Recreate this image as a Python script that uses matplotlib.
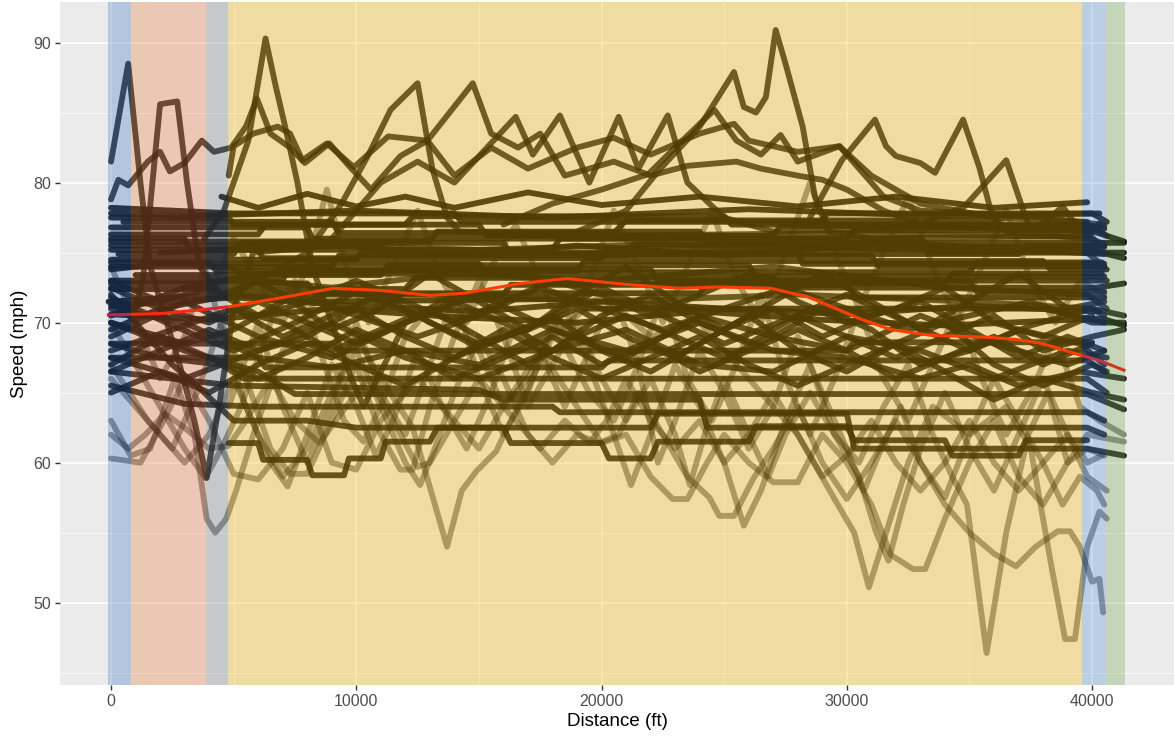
import matplotlib
matplotlib.use("Agg")
import matplotlib.pyplot as plt
from matplotlib.ticker import MultipleLocator, FixedLocator

plt.rcParams["font.family"] = ["Liberation Sans", "DejaVu Sans"]

# Route segments (ft) and their shading colours
zone_edges_ft = [-120, 815, 3860, 4780, 39590, 40570, 41350]
zone_colors = ["#4277c8", "#ed803e", "#7d8086", "#fabe09", "#5796d8", "#73a954"]

# Smoothed mean speed along the route
trend_kft = [-0.1, 2.0, 3.6, 4.85, 7.0, 9.05, 11.0, 13.0, 14.4, 16.7, 18.6, 21.2, 23.2,
             24.7, 26.9, 28.4, 29.3, 30.5, 31.8, 33.4, 35.8, 36.9, 38.0, 39.1, 40.3, 41.3]
trend_mph = [70.55, 70.65, 70.9, 71.15, 71.8, 72.45, 72.3, 71.95, 72.1, 72.8, 73.15, 72.7, 72.45,
             72.55, 72.45, 71.85, 71.2, 70.3, 69.5, 69.1, 68.95, 68.8, 68.5, 67.9, 67.3, 66.6]

# Individual vehicle runs: (distance kft, speed mph)
cruise_runs = [
    [(0, 77.5), (4.8, 77.5), (5.0, 77), (12, 77), (12.3, 77.6), (25, 77.6), (25.3, 77), (39.8, 77), (40.6, 76.2)],
    [(0, 76.8), (8, 76.8), (8.2, 76), (30, 76), (30.3, 76.6), (39.9, 76.6), (41.3, 75.8)],
    [(0, 76), (3, 76), (3.2, 75.2), (18, 75.2), (18.3, 76), (33, 76), (33.4, 75.4), (40.5, 75.4)],
    [(0, 75.2), (6, 75.2), (6.2, 74.6), (20, 74.6), (20.2, 75.3), (39.7, 75.3), (41.3, 74.6)],
    [(0, 74.5), (10, 74.5), (10.2, 75), (28, 75), (28.2, 74.2), (40.5, 74.2)],
    [(0, 73.8), (2, 74.2), (15, 74.2), (15.3, 73.6), (35, 73.6), (35.3, 74.3), (40.4, 74.3)],
    [(0, 73), (7, 73), (7.2, 73.8), (22, 73.8), (22.3, 73), (40.6, 73)],
    [(0, 72.4), (12, 72.4), (12.4, 73.2), (27, 73.2), (27.3, 72.5), (40.2, 72.5), (41.3, 72.8)],
    [(0, 71.5), (4, 72), (16, 72), (16.3, 72.7), (30, 72.7), (30.4, 71.8), (40.5, 71.8)],
    [(0.5, 77.2), (9, 77.2), (9.3, 76.4), (20.5, 76.4), (21, 77.3), (36, 77.3), (36.3, 76.7), (40.5, 76.7)],
    [(0, 75.8), (13, 75.8), (13.3, 76.5), (24, 76.5), (24.3, 75.7), (41.3, 75.7)],
    [(0.3, 74.9), (5, 74.9), (5.3, 75.7), (16, 75.7), (16.3, 74.9), (37, 74.9), (37.3, 75.5), (40.5, 75.5)],
    [(0, 74), (9, 74), (9.3, 74.8), (31, 74.8), (31.3, 74), (40.5, 74)],
    [(1, 73.4), (11, 73.4), (11.3, 74.1), (26, 74.1), (26.3, 73.3), (40.5, 73.3)],
    [(0, 70.5), (3, 72.5), (6, 73.5), (17, 73.5), (17.3, 72.8), (34, 72.8), (34.3, 73.5), (40.4, 73.5)],
    [(0, 78.2), (5, 77.8), (14, 77.8), (14.3, 77.2), (29, 77.2), (29.2, 77.8), (40, 77.8), (40.6, 77.2)],
    [(0, 69.5), (2, 71), (5, 72), (8, 71.5), (19, 71.7), (19.3, 71), (38, 71), (40.5, 70)],
    [(4.5, 79), (6, 78.2), (8, 79.2), (10, 78.3), (12, 79), (14, 78.2), (17, 79.3), (20, 78.4),
     (24, 79), (28, 78.3), (32, 79), (36, 78.2), (39.8, 78.6)],
    [(0, 76.3), (6, 76.3), (6.3, 77), (15, 77), (15.3, 76.2), (27, 76.2), (27.3, 76.9), (40.5, 76.9)],
    [(0, 75.5), (11, 75.5), (11.3, 74.8), (21, 74.8), (21.3, 75.6), (33, 75.6), (33.3, 75), (41.3, 75)],
    [(0, 74.3), (4, 74.3), (4.3, 73.7), (19, 73.7), (19.3, 74.4), (38, 74.4), (38.3, 73.8), (40.6, 73.8)],
    [(0, 72.8), (8, 72.8), (8.3, 72.1), (24, 72.1), (24.3, 72.9), (35, 72.9), (35.3, 72.2), (40.5, 72.2)],
    [(0, 71.2), (5, 71.8), (10, 71.2), (15, 70.8), (20, 71.5), (25, 71), (30, 70.6), (35, 71.2), (40.3, 70.8)],
    [(0, 70.6), (4, 70.2), (9, 71), (14, 70.4), (19, 70), (24, 70.8), (29, 70.2), (34, 69.8), (40.4, 70.3), (41.3, 69.8)],
    [(0, 77.8), (3, 77.6), (10, 78), (18, 77.5), (26, 78.1), (34, 77.6), (40.3, 77.8)],
    [(2, 75), (9, 75.6), (14, 74.8), (19, 75.5), (25, 74.8), (32, 75.7), (40.5, 74.9)],
]

wavy_runs = [
    [(0, 72.5), (2, 71), (4, 70), (6, 71.5), (8, 70), (10, 68.5), (12, 70), (14, 71.5), (16, 70), (18, 68),
     (20, 70.5), (22, 72), (24, 70), (26, 68.5), (28, 70.5), (30, 69), (32, 67.5), (34, 69), (36, 70.5),
     (38, 68), (40, 69), (41.3, 69.5)],
    [(0, 68), (2.5, 69.5), (5, 71), (7, 69), (9, 70.5), (11, 72), (13, 70), (15, 68.5), (17, 69.5), (19, 71),
     (21, 69), (23, 67.5), (25, 69.5), (27, 71), (29, 69), (31, 70.5), (33, 71.5), (35, 69.5), (37, 67.5),
     (39, 69), (40.5, 68)],
    [(0, 70), (3, 68.5), (5, 69.5), (7.5, 72), (10, 70.5), (12.5, 69), (15, 70.5), (17.5, 72.5), (20, 71),
     (22.5, 69.5), (25, 71), (27.5, 72.5), (30, 71), (32.5, 69.5), (35, 70.5), (37.5, 71.5), (40, 70), (41.3, 70)],
    [(0, 66.5), (2, 68), (4, 69.5), (6, 68), (8, 69), (10, 71), (12, 69), (14, 67.5), (16, 69), (18, 70.5),
     (20, 68), (22, 66.5), (24, 68.5), (26, 70.5), (28, 68), (30, 66.5), (32, 68.5), (34, 70), (36, 67),
     (38, 65.5), (40, 67), (40.6, 66.5)],
    [(0, 73), (2, 71.5), (4, 72.5), (6, 70.5), (8, 71.5), (10, 73), (12, 71.5), (14, 70), (16, 71.5), (18, 73),
     (20, 72), (22, 70.5), (24, 72), (26, 73.5), (28, 71.5), (30, 70), (32, 71), (34, 72.5), (36, 70),
     (38, 69), (40, 70.5)],
    [(4.8, 71), (7, 70), (9, 68), (11, 69.5), (13, 71), (15, 69), (17, 67), (19, 69), (21, 70.5), (23, 69),
     (25, 67.5), (27, 69), (29, 71), (31, 69.5), (33, 67), (35, 68), (37, 69.5), (39.5, 68.5), (40.5, 67)],
    [(0, 71), (3, 70), (6, 67.5), (9, 66.8), (12, 68), (15, 67), (18, 69.5), (21, 68), (24, 70), (27, 68),
     (30, 67.5), (33, 66), (35, 67), (37, 65.5), (39.5, 66.5), (41.3, 66)],
    [(0, 65), (2, 66.5), (4, 65), (6, 67), (8, 68.5), (10, 67), (12, 65.5), (14, 67.5), (16, 69.5), (18, 67.5),
     (20, 66), (22, 67.5), (24, 69), (26, 67), (28, 65.5), (30, 67), (32, 68.5), (34, 66.5), (36, 64.5),
     (38, 66), (40, 65), (41.3, 64.5)],
    [(0, 69), (3, 71.5), (6, 69), (9, 67.5), (12, 70), (15, 72), (18, 69.5), (21, 67.5), (24, 70.5), (27, 69),
     (30, 68), (33, 70.5), (36, 68.5), (39, 67), (40.5, 68)],
    [(0, 67.5), (3, 66), (6, 68), (9, 70), (12, 67.5), (15, 66), (18, 68), (21, 69.5), (24, 67), (27, 66.5),
     (30, 69), (33, 68), (36, 66), (39, 68), (40.6, 67.5)],
    [(4.8, 74), (7, 72), (9, 69.5), (11, 71), (13, 73.5), (15, 71.5), (17, 69.5), (19, 72), (21, 74), (23, 71.5),
     (25, 69.5), (27, 71.5), (29, 73.5), (31, 71.5), (33, 69.5), (35, 71.5), (37, 73.5), (39, 71), (40.5, 71.5)],
    [(0, 71.8), (2.5, 69.8), (5, 68), (7.5, 70), (10, 72.2), (12.5, 70.5), (15, 68.2), (17.5, 70), (20, 72.5),
     (22.5, 70.5), (25, 68.5), (27.5, 70.2), (30, 72), (32.5, 70), (35, 68), (37.5, 69.8), (40, 71), (41.3, 70.5)],
    [(0, 67), (2, 69), (4, 67.5), (6, 66), (8, 67.5), (10, 69.5), (12, 68), (14, 66), (16, 67.5), (18, 69),
     (20, 67), (22, 68.5), (24, 66.5), (26, 68), (28, 69.5), (30, 68), (32, 66), (34, 67.5), (36, 69),
     (38, 67), (40, 68.5)],
]

fast_runs = [
    [(0, 81.5), (0.7, 88.5), (1.2, 80), (1.6, 74), (2.1, 71), (2.8, 67), (3.4, 63), (3.9, 58.9), (4.4, 64),
     (5, 71), (5.8, 75), (9, 75.5), (15, 75.2), (22, 75.6), (30, 75.3), (39.8, 75), (40.5, 74)],
    [(-0.1, 71.5), (0.9, 70.5), (1.3, 73), (2.0, 85.6), (2.7, 85.8), (3.1, 80), (3.6, 74), (4.5, 72), (6, 73),
     (9, 72.5), (14, 73.5), (20, 73), (27, 74), (34, 72.5), (39.8, 72), (40.6, 71)],
    [(0, 78.8), (0.3, 80.2), (0.7, 79.8), (1.5, 81.5), (2.0, 82.2), (2.4, 80.8), (3.0, 81.4), (3.7, 83),
     (4.2, 82.2), (4.9, 82.5), (5.5, 84), (5.95, 86), (6.5, 83.5), (7.3, 82.5), (7.9, 81.4), (8.9, 82.8),
     (9.7, 81.2), (10.6, 79.5), (11.8, 81.9), (12.9, 83), (14.75, 87.1), (15.5, 83.5), (16.6, 82.5),
     (17.5, 83.5), (18.5, 80.5), (19.5, 81), (20.5, 81.5), (22, 80.5), (23.5, 81.2), (25.5, 81.5),
     (26.5, 81), (28, 80.5), (29, 80.2), (30, 79.5), (31.5, 78), (33, 77), (36, 76.8), (39.8, 76.5), (40.3, 75.5)],
    [(3.8, 76), (4.6, 78), (5.6, 83), (6.3, 90.3), (6.7, 87), (7.1, 84), (7.6, 80), (8.2, 74), (9, 70),
     (9.8, 66), (10.3, 64), (11, 66.5), (12, 70), (14, 72), (20, 71.5), (28, 72), (35, 71.5), (40, 71), (40.5, 70.5)],
    [(5, 72), (8, 75), (9.4, 78.5), (10.5, 82), (11.4, 85.2), (12.5, 87.1), (13.1, 81), (13.7, 77.5),
     (14.2, 76.5), (20, 76.2), (30, 76.4), (39.8, 76.1), (40.5, 75.6)],
    [(9, 76), (11, 80), (12.5, 81.5), (14, 80), (16.5, 84.7), (17.2, 82), (18.3, 84.8), (19.5, 80),
     (20.7, 84.7), (21.5, 81), (22.7, 84.8), (23.5, 80), (25, 77.5), (27, 76.5), (33, 76.8), (39.8, 76.6)],
    [(16, 77), (18, 78.5), (20, 79.5), (21.9, 80.6), (23, 82.5), (24.6, 85.2), (25.5, 83), (26.5, 82),
     (27.3, 83.4), (28, 81.5), (29.7, 82.6), (31, 80.5), (33, 78.5), (36, 77.5), (39.8, 77.2)],
    [(19, 76.5), (21, 78), (22.4, 81), (24, 84), (25.4, 87.9), (25.8, 85.4), (26.3, 85), (26.7, 86.1),
     (27.1, 90.9), (27.5, 88.5), (28.2, 84), (28.7, 79), (29.3, 76.5), (31, 76), (39.8, 76.2)],
    [(28.5, 77.5), (29.8, 81.6), (31.15, 84.5), (31.6, 82.6), (32, 81.9), (33, 81.4), (33.6, 80.7),
     (34.74, 84.5), (35.4, 81.1), (35.9, 77.8), (36.5, 76.5), (39.8, 76)],
    [(33, 77), (34.8, 78.3), (36.5, 81.6), (37.2, 78), (37.5, 76.6), (38.1, 77.2), (38.8, 78.3),
     (39.5, 76.6), (39.9, 76.3), (40.3, 77.1)],
    [(4.8, 80.5), (5.0, 82.6), (5.8, 83.5), (6.8, 84), (7.3, 83.5), (7.8, 81.6), (8.8, 82.8), (9.9, 81.1),
     (11.3, 83.3), (12.9, 83), (14, 80.5), (15.5, 82.5), (17, 81), (19, 82.5), (20.5, 83.2), (22, 82),
     (24, 83.5), (25.4, 84.2), (26, 83), (28, 82.2), (29.7, 82.6), (30.5, 81), (31.5, 79), (33, 78),
     (38, 77.5), (40.4, 77)],
]

sawtooth_runs = [
    [(0, 63), (0.8, 60.5), (1.6, 61), (2.6, 66), (3.4, 62), (3.9, 56), (4.25, 55), (4.7, 56), (5.1, 58),
     (5.8, 62), (7, 68), (8.5, 72), (10, 69), (11, 66), (12.3, 62.5), (13.7, 54), (14.3, 58), (14.9, 59.4),
     (15.7, 60.8), (16.3, 63), (16.9, 65), (18, 69), (20, 72), (22, 69), (24, 70), (26, 66), (28, 62),
     (29.5, 57.4), (30.3, 55), (30.9, 51.1), (31.6, 55), (32.5, 60), (33.5, 64), (35, 62), (36.5, 64),
     (37.5, 61), (38.3, 53), (38.9, 47.4), (39.3, 47.4), (39.8, 54), (40.3, 56.5), (40.6, 56)],
    [(0, 70), (1, 67), (2, 64), (3, 61), (3.85, 58.9), (4.5, 61), (5.3, 64), (6.5, 70), (7.5, 73), (8.5, 68),
     (9.5, 63), (10.3, 61.5), (11, 64), (12, 69), (13.5, 72), (15, 68), (16, 64), (17, 66), (18.5, 71),
     (19.5, 67), (20.5, 62), (21.2, 58.4), (22, 62), (23, 67), (24, 64), (25, 60), (25.8, 55.5), (26.5, 58),
     (27.5, 63), (28.5, 67), (29.5, 62), (30.5, 60), (31.5, 64), (32.5, 67), (33.5, 62), (34.3, 59),
     (34.9, 57), (35.7, 46.4), (36.5, 55), (37.4, 62), (38.2, 65), (39, 60), (39.8, 61), (40.5, 60.5)],
    [(0, 60.3), (1.2, 60), (2, 62.5), (3, 66), (4, 63), (5, 59.2), (6, 58.8), (7, 61), (8, 65), (9, 60),
     (10, 59.5), (11, 63), (12.5, 66), (14, 63), (15, 61), (16, 64), (17.5, 68), (19, 64), (20, 61.4),
     (21, 62), (22, 59), (22.9, 57.4), (23.5, 57.4), (24.3, 60), (25, 62), (26, 60), (27, 58.6), (28, 58.6),
     (29, 62), (30, 60), (31, 57), (31.8, 53.4), (32.7, 52.4), (33.2, 52.4), (34, 56), (35, 60), (36, 63),
     (37, 59), (38, 57), (39, 60), (39.8, 62), (41.3, 61.5)],
    [(0, 66), (1, 64), (2, 62), (3, 60), (4, 62), (5, 66), (6, 62), (7, 59), (8, 61), (9, 65), (10, 68),
     (11, 64), (12, 60), (12.6, 58.4), (13.2, 61), (14, 65), (15, 69), (16, 66), (17, 62), (18, 60), (19, 62),
     (19.9, 61.4), (20.7, 62), (21.5, 65), (22.5, 62), (23.5, 59), (24.4, 57.5), (24.8, 56.2), (25.4, 56.2),
     (26.2, 58.9), (27, 61), (28, 64), (29, 60), (30, 57.4), (31, 60), (32, 63), (33, 60), (34, 57),
     (35, 55), (36, 53.5), (36.9, 52.6), (37.7, 54), (38.6, 55.1), (39.1, 55.1), (39.5, 54), (40, 51.5),
     (40.3, 51.7), (40.45, 49.3)],
    [(4.8, 64), (6, 70), (7, 64), (8, 60), (9, 64), (10, 70), (11, 65), (12, 62), (13, 67), (14, 72), (15, 66),
     (16, 62), (17, 65), (18, 70), (19.5, 65), (20.5, 63), (21.5, 67), (22.5, 72), (23.5, 66), (24.5, 63),
     (25.5, 67), (26.5, 72), (27.5, 66), (28.5, 62), (29.5, 66), (30.5, 71), (31.5, 66), (32.5, 63),
     (33.5, 67), (34.5, 71), (35.5, 66), (36.5, 62), (37.5, 65), (38.5, 69), (39.5, 64), (40.3, 63), (41.3, 62)],
    [(0, 67), (1.5, 63), (2.5, 61), (3.5, 65), (4.5, 70), (5.5, 66), (6.5, 61), (7.3, 59.2), (8, 59.2),
     (9, 63), (10, 67), (11, 62), (11.8, 59.5), (12.3, 59.5), (13, 64), (14, 69), (15, 73), (16, 69), (17, 64),
     (18, 67), (19, 70), (20, 66), (21, 63), (22, 66), (23, 62), (23.6, 58.4), (24.2, 62), (25, 66), (26, 62),
     (26.8, 59), (27.5, 62), (28.5, 65), (29.5, 62), (30.5, 59), (31.2, 55), (31.7, 53), (32.3, 57), (33, 61),
     (34, 65), (35, 61), (36, 58), (37, 62), (38, 66), (39, 62), (39.8, 59), (40.6, 58)],
    [(0, 62), (0.7, 61), (1.4, 62), (2.2, 63.5), (3, 62.5), (4, 61), (4.8, 61.2), (5.5, 63), (6.5, 66),
     (7.5, 63), (8.5, 61.4), (9.5, 63.8), (10.5, 66), (11.5, 63), (12.5, 59.7), (13, 60), (14, 63), (15, 66),
     (16.5, 63), (17.5, 61), (18.5, 63), (19.5, 61.4), (20.2, 63), (21, 66), (22, 63), (23, 61), (24, 63),
     (25, 60), (26, 62), (27, 65), (28, 62), (29, 59), (30, 60.5), (31, 63), (32, 60), (33, 58), (34, 60),
     (35, 63), (36, 60), (37, 58), (38, 60), (39, 62), (39.8, 60), (40.4, 60.5)],
    [(4, 72), (5, 76), (6, 73), (7, 70), (8, 74), (8.8, 79.5), (9.6, 74), (10.5, 70), (11.5, 74), (12.5, 78),
     (13.5, 73), (14.5, 70), (15.5, 74), (16.5, 77), (17.5, 73), (18.5, 69), (19.5, 73), (20.5, 78),
     (21.5, 74), (22.5, 70), (23.5, 74), (24.5, 78), (25.5, 73), (26.5, 70), (27.5, 75), (28.5, 80),
     (29.5, 75), (30.5, 71), (31.5, 75), (32.5, 79), (33.5, 74), (34.5, 70), (35.5, 74), (36.5, 78),
     (37.5, 73), (38.5, 70), (39.5, 73), (40.5, 72)],
    [(0, 74), (1, 70), (2, 66), (3, 69), (3.8, 74), (4.6, 69), (5.5, 64), (6.5, 60), (7.2, 58.3), (8, 62),
     (9, 67), (10, 64), (10.8, 60.5), (11.5, 63), (12.5, 68), (13.5, 64), (14.5, 61), (15.5, 65), (16.5, 70),
     (17.5, 68), (18.5, 64), (19.5, 68), (20.5, 72), (21.5, 67), (22.3, 60), (23, 63), (24, 68), (25, 65),
     (26, 61), (27, 64), (28, 69), (29, 65), (30, 61), (30.7, 58), (31.4, 61), (32.2, 64), (33, 60),
     (34, 57.5), (35, 62), (36, 66), (37, 63), (38, 60), (38.8, 57), (39.5, 59), (40.2, 58), (40.5, 57)],
]

slow_runs = [
    [(0, 68.5), (2, 67.5), (4.5, 67), (5.4, 66), (39.8, 66), (40.6, 65)],
    [(0, 70), (3, 68), (6, 66.5), (7.5, 64.9), (39.8, 64.9), (41.3, 63.8)],
    [(0, 65.5), (3, 64.2), (6, 64), (18, 64), (18.3, 63.6), (39.8, 63.6), (40.5, 63)],
    [(0, 66.5), (5, 65.5), (15, 65.2), (16, 64.5), (24, 64.5), (24.3, 62.5), (39.8, 62.5), (40.5, 62)],
    [(0, 72), (1, 70), (2.5, 67), (3.5, 65.5), (5, 63), (8, 63), (10, 62.5), (22, 62.5), (22.3, 63.5),
     (30, 63.5), (30.3, 61), (39.8, 61), (41.3, 60.5)],
    [(0, 67.5), (6, 67.5), (6.3, 66.8), (20, 66.8), (20.3, 67.3), (39.8, 67.3), (40.5, 66.5)],
    [(0, 68.5), (9, 68.5), (9.3, 68), (30, 68), (30.3, 68.6), (40, 68.6)],
    [(4.8, 61.4), (6, 61.4), (6.2, 60.2), (8, 60.2), (8.2, 59.1), (9.5, 59.1), (9.7, 60.3), (11, 60.3),
     (11.2, 61.5), (13, 61.5), (13.3, 62.5), (16, 62.5), (16.3, 61.4), (20, 61.4), (20.3, 60.3), (22, 60.3),
     (22.3, 61.5), (26, 61.5), (26.3, 62.6), (30, 62.6), (30.3, 61.6), (34, 61.6), (34.3, 60.5), (37, 60.5),
     (37.3, 61.6), (39.8, 61.6)],
]

fig = plt.figure(figsize=(11.74, 7.42), dpi=100)
ax = fig.add_axes([60 / 1174, 57 / 742, 1114 / 1174, 683 / 742])
ax.set_facecolor("#ebebeb")
ax.set_axisbelow(True)


def draw_runs(runs, alpha, lw=4.2):
    for run in runs:
        xs = [p[0] * 1000 for p in run]
        ys = [p[1] for p in run]
        ax.plot(xs, ys, color="black", lw=lw, alpha=alpha,
                solid_capstyle="round", solid_joinstyle="round", zorder=2)


draw_runs(sawtooth_runs, 0.42)
draw_runs(slow_runs, 0.85)
draw_runs(wavy_runs, 0.85)
draw_runs(cruise_runs, 0.9)
draw_runs(fast_runs, 0.8)

ax.plot([k * 1000 for k in trend_kft], trend_mph, color="#ff0000", lw=2.2, zorder=3)

for i, c in enumerate(zone_colors):
    ax.axvspan(zone_edges_ft[i], zone_edges_ft[i + 1], color=c, alpha=0.32, lw=0, zorder=4)

ax.set_xlim(-2080, 43340)
ax.set_ylim(44.12, 92.9)
ax.xaxis.set_major_locator(FixedLocator([0, 10000, 20000, 30000, 40000]))
ax.xaxis.set_minor_locator(FixedLocator([-5000, 5000, 15000, 25000, 35000]))
ax.yaxis.set_major_locator(MultipleLocator(10))
ax.yaxis.set_minor_locator(MultipleLocator(5))
ax.grid(which="major", color="white", lw=1.1)
ax.grid(which="minor", color="white", lw=0.55)
ax.tick_params(which="major", length=3.5, width=1.0, color="#333333",
               labelcolor="#4d4d4d", labelsize=11.5, pad=3)
ax.tick_params(which="minor", length=0)
for s in ax.spines.values():
    s.set_visible(False)

ax.set_xlabel("Distance (ft)", fontsize=13.5, color="black", labelpad=3)
ax.set_ylabel("Speed (mph)", fontsize=13.5, color="black", labelpad=4)

fig.savefig("out.png", dpi=100)
